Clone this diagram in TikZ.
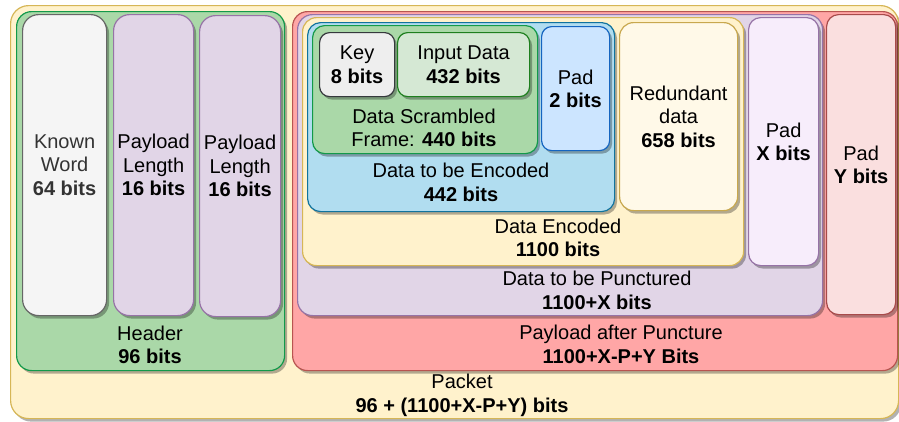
\documentclass[tikz,border=0pt]{standalone}
\usepackage{fontspec}
\setmainfont{Liberation Sans}
\usetikzlibrary{shadows}
\definecolor{PktFill}{HTML}{FFF2CC}
\definecolor{PktLine}{HTML}{D6B656}
\definecolor{HdrFill}{HTML}{AAD8A8}
\definecolor{HdrLine}{HTML}{12994A}
\definecolor{KnwFill}{HTML}{F5F5F5}
\definecolor{KnwLine}{HTML}{666666}
\definecolor{KnwText}{HTML}{333333}
\definecolor{PurFill}{HTML}{E1D5E7}
\definecolor{PurLine}{HTML}{9673A6}
\definecolor{RedFill}{HTML}{FFA6A6}
\definecolor{RedLine}{HTML}{B85450}
\definecolor{BluFill}{HTML}{B1DDF0}
\definecolor{BluLine}{HTML}{10739E}
\definecolor{KeyFill}{HTML}{EEEEEE}
\definecolor{KeyLine}{HTML}{36393D}
\definecolor{InpFill}{HTML}{D5E8D4}
\definecolor{InpLine}{HTML}{1E7F1E}
\definecolor{PadFill}{HTML}{CCE5FF}
\definecolor{PadLine}{HTML}{1565C0}
\definecolor{RedunFill}{HTML}{FFF9E8}
\definecolor{RedunLine}{HTML}{C8A84E}
\definecolor{PadXFill}{HTML}{F7EDFB}
\definecolor{PadYFill}{HTML}{FADFDF}
\definecolor{PadYLine}{HTML}{A84A4A}

\begin{document}
\begin{tikzpicture}[x=1pt, y=-1pt,
  font=\fontsize{20}{23.5}\selectfont,
  blk/.style={rounded corners=12pt, line width=1.2pt, inner sep=0pt, anchor=north west, align=center,
    drop shadow={shadow xshift=2.5pt, shadow yshift=-3pt, opacity=0.3, fill=black}},
  lbl/.style={align=center, inner sep=0pt}]
  \path[use as bounding box] (0,0) rectangle (899,421);

  % packet and header
  \node[blk, fill=PktFill, draw=PktLine, rounded corners=18pt, minimum width=888pt, minimum height=413pt] (packet) at (10,5) {};
  \node[blk, fill=HdrFill, draw=HdrLine, rounded corners=15pt, minimum width=268pt, minimum height=359pt] (header) at (16,11) {};
  \node[blk, fill=KnwFill, draw=KnwLine, rounded corners=16pt, minimum width=84pt, minimum height=301pt, text=KnwText] (known) at (22,14) {Known\\Word\\\textbf{64 bits}};
  \node[blk, fill=PurFill, draw=PurLine, rounded corners=16pt, minimum width=80pt, minimum height=301pt] (len1) at (113,14) {Payload\\Length\\\textbf{16 bits}};
  \node[blk, fill=PurFill, draw=PurLine, rounded corners=16pt, minimum width=81pt, minimum height=301pt] (len2) at (199,15) {Payload\\Length\\\textbf{16 bits}};
  \node[lbl] (headerlbl) at (150,345) {Header\\\textbf{96 bits}};

  % payload
  \node[blk, fill=RedFill, draw=RedLine, rounded corners=15pt, minimum width=605pt, minimum height=359pt] (punct) at (292,11) {};
  \node[blk, fill=PurFill, draw=PurLine, rounded corners=15pt, minimum width=525pt, minimum height=301pt] (topunct) at (297,14) {};
  \node[blk, fill=PktFill, draw=PktLine, rounded corners=14pt, minimum width=441pt, minimum height=248pt] (encoded) at (302,17) {};
  \node[blk, fill=BluFill, draw=BluLine, rounded corners=13pt, minimum width=307pt, minimum height=189pt] (toencode) at (307,22) {};
  \node[blk, fill=HdrFill, draw=HdrLine, rounded corners=12pt, minimum width=225pt, minimum height=128pt] (scrambled) at (312,25) {};
  \node[blk, fill=KeyFill, draw=KeyLine, rounded corners=10pt, minimum width=75pt, minimum height=64pt] (key) at (319,32) {Key\\\textbf{8 bits}};
  \node[blk, fill=InpFill, draw=InpLine, rounded corners=10pt, minimum width=132pt, minimum height=64pt] (input) at (397,32) {Input Data\\\textbf{432 bits}};
  \node[blk, fill=PadFill, draw=PadLine, rounded corners=10pt, minimum width=68pt, minimum height=124pt] (pad2) at (541,26) {Pad\\\textbf{2 bits}};
  \node[blk, fill=RedunFill, draw=RedunLine, rounded corners=14pt, minimum width=118pt, minimum height=188pt] (redundant) at (619,22) {Redundant\\data\\\textbf{658 bits}};
  \node[blk, fill=PadXFill, draw=PurLine, rounded corners=12pt, minimum width=70pt, minimum height=248pt] (padx) at (748,17) {Pad\\\textbf{X bits}};
  \node[blk, fill=PadYFill, draw=PadYLine, rounded corners=12pt, minimum width=69pt, minimum height=300pt] (pady) at (826,14) {Pad\\\textbf{Y bits}};

  % container labels
  \node[lbl] (scrambledlbl) at (424,128) {Data Scrambled\\Frame: \textbf{440 bits}};
  \node[lbl] (toencodelbl) at (461,182.5) {Data to be Encoded\\\textbf{442 bits}};
  \node[lbl] (encodedlbl) at (558,238) {Data Encoded\\\textbf{1100 bits}};
  \node[lbl] (topunctlbl) at (597,290.5) {Data to be Punctured\\\textbf{1100+X bits}};
  \node[lbl] (punctlbl) at (621,344.5) {Payload after Puncture\\\textbf{1100+X-P+Y Bits}};
  \node[lbl] (packetlbl) at (462,395.5) {Packet\\\textbf{96 + (1100+X-P+Y) bits}};
\end{tikzpicture}
\end{document}
